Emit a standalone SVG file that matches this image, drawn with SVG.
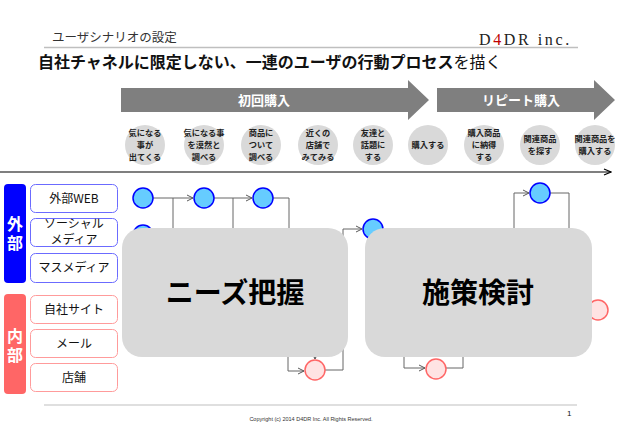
<svg xmlns="http://www.w3.org/2000/svg" width="620" height="429" viewBox="0 0 620 429">
<defs>
<marker id="open" markerWidth="8" markerHeight="8" refX="7" refY="4" orient="auto" markerUnits="userSpaceOnUse">
<polyline points="1,1 7,4 1,7" fill="none" stroke="#595959" stroke-width="1"/>
</marker>
<marker id="tl" markerWidth="10" markerHeight="8" refX="9" refY="4" orient="auto" markerUnits="userSpaceOnUse">
<polyline points="2,1 9,4 2,7" fill="none" stroke="#000" stroke-width="1.2"/>
</marker>
</defs>
<style>
.jp{font-family:"Noto Sans CJK JP","Noto Sans",sans-serif;}
.step{fill:#d9d9d9;}
.stxt{font-family:"Noto Sans CJK JP",sans-serif;font-size:8.2px;font-weight:bold;fill:#222;text-anchor:middle;}
.big{fill:#d9d9d9;}
.bigt{font-family:"Noto Sans CJK JP",sans-serif;font-size:28px;font-weight:bold;fill:#000;text-anchor:middle;}
.bc{fill:#66ccff;stroke:#0000ff;stroke-width:1.5;}
.rc{fill:#ffe3e3;stroke:#ff6666;stroke-width:1.5;}
.conn{fill:none;stroke:#666;stroke-width:1;}
.ext{fill:#fff;stroke:#6b6bff;stroke-width:1;}
.int{fill:#fff;stroke:#ff9b9b;stroke-width:1;}
.lt{font-family:"Noto Sans CJK JP",sans-serif;font-size:12px;fill:#111;text-anchor:middle;}
.vt{font-family:"Noto Sans CJK JP",sans-serif;font-size:16px;font-weight:bold;fill:#fff;text-anchor:middle;writing-mode:vertical-rl;letter-spacing:3px;}
.arr{fill:#7f7f7f;}
.arrt{font-family:"Noto Sans CJK JP",sans-serif;font-size:13px;font-weight:bold;fill:#fff;text-anchor:middle;}
</style>
<rect width="620" height="429" fill="#fff"/>

<!-- header -->
<g id="header">
<text x="52" y="42" class="jp" font-size="12.5" fill="#333">ユーザシナリオの設定</text>
<text x="479" y="45" font-family="Liberation Serif,serif" font-size="16" letter-spacing="2.6" fill="#222">D<tspan fill="#c00000">4</tspan>DR inc.</text>
<line x1="44" y1="47.5" x2="578" y2="47.5" stroke="#bfbfbf" stroke-width="1.5"/>
<text x="38" y="68" class="jp" font-size="16" fill="#111"><tspan font-weight="bold">自社チャネルに限定しない、一連のユーザの行動プロセス</tspan>を描く</text>
</g>

<!-- phase arrows -->
<g id="phase1">
<polygon class="arr" points="121,88 408,88 408,80 429,100 408,120 408,112 121,112"/>
<text x="264" y="105" class="arrt">初回購入</text>
</g>
<g id="phase2">
<polygon class="arr" points="437,88 594,88 594,80 615,100 594,120 594,112 437,112"/>
<text x="521" y="105" class="arrt">リピート購入</text>
</g>

<!-- steps -->
<g id="step1"><circle class="step" cx="145" cy="145" r="20"/><text class="stxt"><tspan x="145" y="136">気になる</tspan><tspan x="145" y="148">事が</tspan><tspan x="145" y="160">出てくる</tspan></text></g>
<g id="step2"><circle class="step" cx="204" cy="145" r="20"/><text class="stxt"><tspan x="204" y="136">気になる事</tspan><tspan x="204" y="148">を漠然と</tspan><tspan x="204" y="160">調べる</tspan></text></g>
<g id="step3"><circle class="step" cx="261" cy="145" r="20"/><text class="stxt"><tspan x="261" y="136">商品に</tspan><tspan x="261" y="148">ついて</tspan><tspan x="261" y="160">調べる</tspan></text></g>
<g id="step4"><circle class="step" cx="318" cy="145" r="20"/><text class="stxt"><tspan x="318" y="136">近くの</tspan><tspan x="318" y="148">店舗で</tspan><tspan x="318" y="160">みてみる</tspan></text></g>
<g id="step5"><circle class="step" cx="373" cy="145" r="20"/><text class="stxt"><tspan x="373" y="136">友達と</tspan><tspan x="373" y="148">話題に</tspan><tspan x="373" y="160">する</tspan></text></g>
<g id="step6"><circle class="step" cx="428" cy="145" r="20"/><text class="stxt" x="428" y="148">購入する</text></g>
<g id="step7"><circle class="step" cx="484" cy="145" r="20"/><text class="stxt"><tspan x="484" y="136">購入商品</tspan><tspan x="484" y="148">に納得</tspan><tspan x="484" y="160">する</tspan></text></g>
<g id="step8"><circle class="step" cx="540" cy="145" r="20"/><text class="stxt"><tspan x="540" y="142">関連商品</tspan><tspan x="540" y="154">を探す</tspan></text></g>
<g id="step9"><circle class="step" cx="595" cy="145" r="20"/><text class="stxt"><tspan x="595" y="142">関連商品を</tspan><tspan x="595" y="154">購入する</tspan></text></g>

<!-- timeline -->
<g id="timeline">
<line x1="0" y1="172" x2="611" y2="172" stroke="#000" stroke-width="1.2" marker-end="url(#tl)"/>
</g>

<!-- side labels -->
<g id="external">
<rect x="4" y="184" width="22" height="99" rx="4" fill="#0000ff"/>
<text x="15" y="235" class="vt">外部</text>
</g>
<g id="internal">
<rect x="4" y="294" width="22" height="100" rx="4" fill="#ff6666"/>
<text x="15" y="347" class="vt">内部</text>
</g>
<g id="web"><rect class="ext" x="30.5" y="184.5" width="87" height="28" rx="5"/><text x="74" y="203" class="lt">外部WEB</text></g>
<g id="social"><rect class="ext" x="30.5" y="218.5" width="87" height="28" rx="5"/><text class="lt" font-size="11.5"><tspan x="74" y="228">ソーシャル</tspan><tspan x="74" y="244">メディア</tspan></text></g>
<g id="mass"><rect class="ext" x="30.5" y="253.5" width="87" height="29" rx="5"/><text x="74" y="272" class="lt">マスメディア</text></g>
<g id="site"><rect class="int" x="30.5" y="295.5" width="87" height="28" rx="5"/><text x="74" y="314" class="lt">自社サイト</text></g>
<g id="mail"><rect class="int" x="30.5" y="329.5" width="87" height="28" rx="5"/><text x="74" y="348" class="lt">メール</text></g>
<g id="store"><rect class="int" x="30.5" y="363.5" width="87" height="28" rx="5"/><text x="74" y="382" class="lt">店舗</text></g>

<!-- connectors -->
<g id="connectors">
<line class="conn" x1="153" y1="198" x2="193" y2="198" marker-end="url(#open)"/>
<line class="conn" x1="173" y1="198" x2="173" y2="240"/>
<line class="conn" x1="214" y1="198" x2="252" y2="198" marker-end="url(#open)"/>
<line class="conn" x1="233" y1="198" x2="233" y2="240"/>
<polyline class="conn" points="273,198 289,198 289,240"/>
<polyline class="conn" points="343,245 343,229 362,229" marker-end="url(#open)"/>
<polyline class="conn" points="514,240 514,193 529,193" marker-end="url(#open)"/>
<polyline class="conn" points="550,193 569,193 569,240"/>
<polyline class="conn" points="288,345 288,371 304,371" marker-end="url(#open)"/>
<polyline class="conn" points="325,370 343,370 343,345"/>
<line class="conn" x1="315" y1="345" x2="315" y2="359" marker-end="url(#open)"/>
<polyline class="conn" points="404,345 404,368 425,368" marker-end="url(#open)"/>
<polyline class="conn" points="446,368 463,368 463,345"/>
</g>

<!-- touchpoint circles -->
<g id="tp-b1"><circle class="bc" cx="143" cy="198" r="10"/></g>
<g id="tp-b2"><circle class="bc" cx="204" cy="198" r="10"/></g>
<g id="tp-b3"><circle class="bc" cx="263" cy="198" r="10"/></g>
<g id="tp-b4"><circle class="bc" cx="143" cy="235" r="10"/></g>
<g id="tp-b5"><circle class="bc" cx="373" cy="229" r="10"/></g>
<g id="tp-b6"><circle class="bc" cx="540" cy="193" r="10"/></g>
<g id="tp-r1"><circle class="rc" cx="315" cy="370" r="10"/></g>
<g id="tp-r2"><circle class="rc" cx="436" cy="369" r="10"/></g>
<g id="tp-r3"><circle class="rc" cx="598" cy="310" r="10"/></g>

<!-- overlay boxes -->
<g id="needs">
<rect class="big" x="122" y="228" width="226" height="129" rx="20"/>
<text x="235" y="303" class="bigt">ニーズ把握</text>
</g>
<g id="measures">
<rect class="big" x="365" y="228" width="227" height="129" rx="20"/>
<text x="478" y="303" class="bigt">施策検討</text>
</g>

<!-- footer -->
<g id="footer">
<line x1="44" y1="405" x2="577" y2="405" stroke="#bfbfbf" stroke-width="1"/>
<text x="311" y="421" font-family="Liberation Sans,sans-serif" font-size="5.5" fill="#333" text-anchor="middle">Copyright (c) 2014 D4DR Inc. All Rights Reserved.</text>
<text x="567" y="416" font-family="Liberation Sans,sans-serif" font-size="8" fill="#111">1</text>
</g>
</svg>
